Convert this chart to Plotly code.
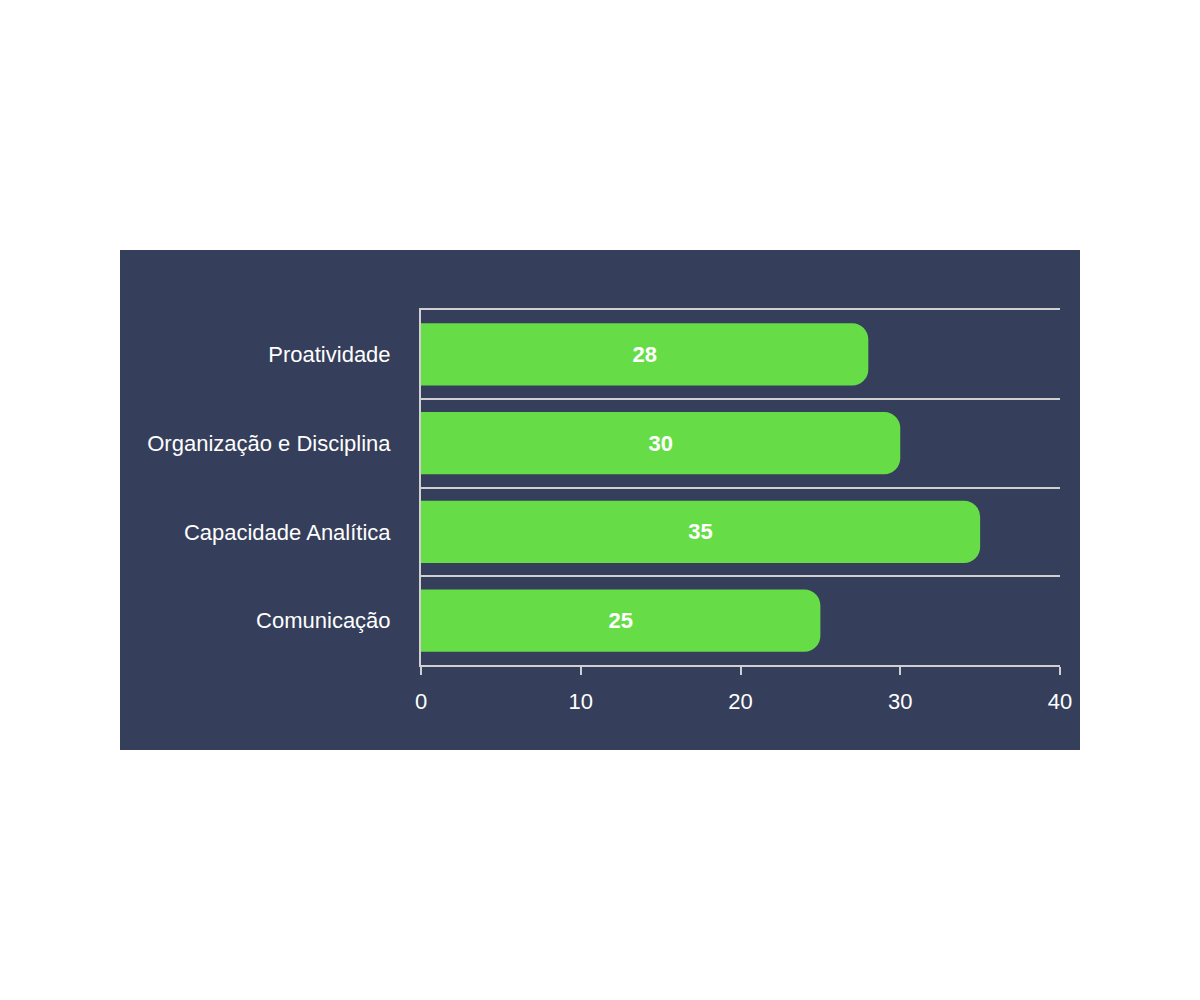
import plotly.graph_objects as go

categories = ["Comunicação", "Capacidade Analítica", "Organização e Disciplina", "Proatividade"]
values = [25, 35, 30, 28]
x_ticks = [0, 10, 20, 30, 40]

W, H = 1200, 1000
L, R, T, B = 421, 140, 310, 335
pw, ph = W - L - R, H - T - B
bg = "#353e5a"
green = "#66dd47"
line_col = "#d0d0d0"

fig = go.Figure()
fig.add_trace(go.Bar(
    x=values, y=categories, orientation="h",
    marker=dict(color=green, line=dict(width=0)),
    width=0.7,
    text=[str(v) for v in values],
    textposition="inside", insidetextanchor="middle",
    textfont=dict(family="Liberation Sans", size=22, color="white", weight="bold"),
    hoverinfo="skip",
))

fig.add_shape(type="rect", xref="paper", yref="paper",
              x0=(120 - L) / pw, x1=(1080 - L) / pw,
              y0=(H - B - 750) / ph, y1=(H - B - 250) / ph,
              fillcolor=bg, line=dict(width=0), layer="below")

fig.update_layout(
    width=W, height=H,
    margin=dict(l=L, r=R, t=T, b=B),
    paper_bgcolor="white", plot_bgcolor="rgba(0,0,0,0)",
    barcornerradius=16,
    showlegend=False,
    font=dict(family="Liberation Sans", size=22, color="white"),
    xaxis=dict(range=[0, 40], tickvals=x_ticks, showgrid=False, zeroline=False,
               showline=True, linecolor=line_col, linewidth=2, mirror=True,
               ticks="outside", ticklen=8, tickwidth=2, tickcolor=line_col,
               ticklabelstandoff=8,
               tickfont=dict(size=22, color="white")),
    yaxis=dict(categoryorder="array", categoryarray=categories,
               tickson="boundaries", showgrid=True, gridcolor=line_col, gridwidth=2,
               showline=True, linecolor=line_col, linewidth=2,
               ticks="", ticklabelstandoff=24, zeroline=False,
               tickfont=dict(size=22, color="white")),
)

fig.write_html("out.html")
